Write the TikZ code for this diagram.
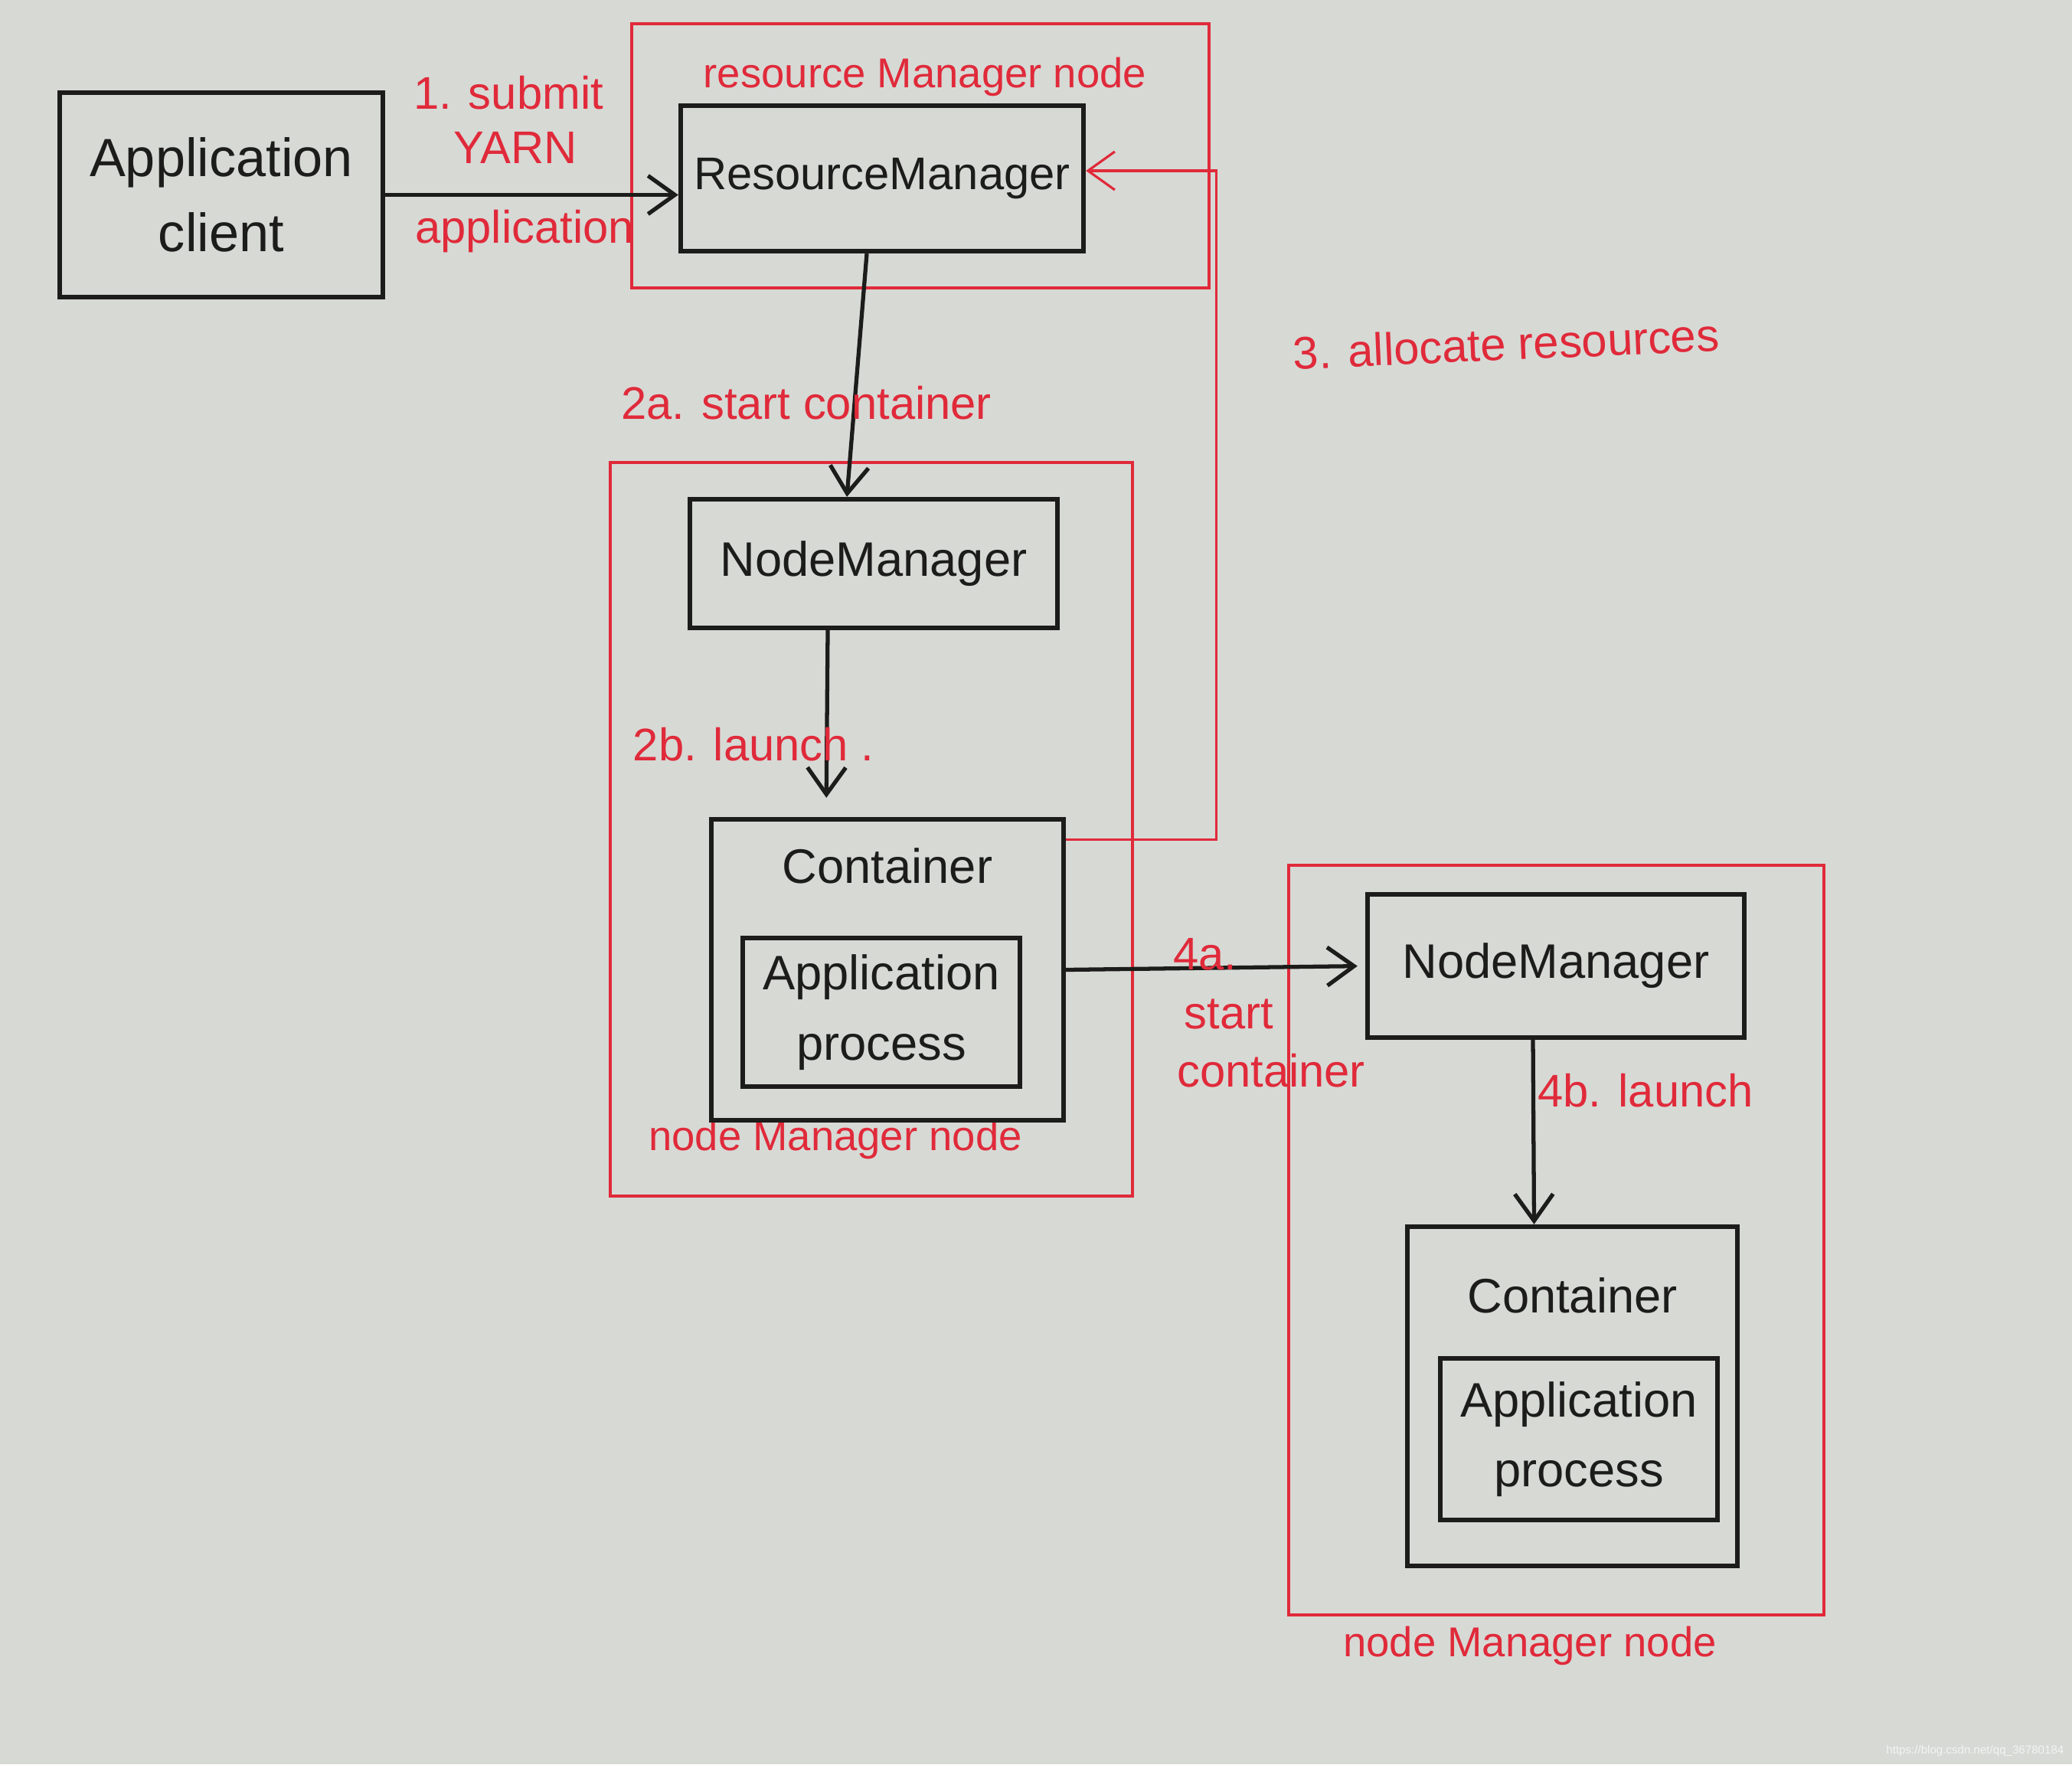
\documentclass[tikz,border=0pt]{standalone}
\usepackage{fontspec}
\setmainfont{Liberation Sans}
\usepackage{tikz}
\usetikzlibrary{positioning,arrows.meta}
\definecolor{pPaper}{HTML}{D7D9D5}
\definecolor{pInk}{HTML}{1C1C1A}
\definecolor{pRed}{HTML}{E02A3A}
\definecolor{pMark}{HTML}{F4F4F2}
\tikzset{
 inkbox/.style={draw=pInk, line width=1.8pt, text=pInk, font=\fontsize{18}{26}\selectfont, align=center, inner sep=2pt},
 inktxt/.style={text=pInk, font=\fontsize{18}{22}\selectfont, inner sep=2pt},
 hostbox/.style={draw=pRed, line width=0.9pt},
 redtxt/.style={text=pRed, font=\fontsize{17}{20}\selectfont, inner sep=0pt},
 hosttxt/.style={text=pRed, font=\fontsize{15.5}{18}\selectfont, inner sep=0pt},
 inkarr/.style={-{Straight Barb[length=3.5mm,width=5mm]}, pInk, line width=1.5pt},
 redarr/.style={-{Straight Barb[length=3.5mm,width=5mm]}, pRed, line width=0.9pt}
}

\begin{document}
\begin{tikzpicture}
\fill[pPaper] (0,0) rectangle (27.06,-23.04);
\useasboundingbox (0,0) rectangle (27.06,-23.04);
\node[hostbox, minimum width=7.54cm, minimum height=3.45cm] (rmHost) at (12.02,-2.035) {};
\node[hostbox, minimum width=6.82cm, minimum height=9.58cm] (nmHostA) at (11.38,-10.83) {};
\node[hostbox, minimum width=6.99cm, minimum height=9.79cm] (nmHostB) at (20.325,-16.195) {};
\node[hosttxt] (rmHostLbl) at (12.08,-1.0) {resource Manager node};
\node[hosttxt] (nmHostALbl) at (10.91,-14.88) {node Manager node};
\node[hosttxt] (nmHostBLbl) at (19.98,-21.49) {node Manager node};
\node[inkbox, font=\fontsize{20}{28}\selectfont, minimum width=4.22cm, minimum height=2.67cm] (client) at (2.89,-2.545) {Application\\client};
\node[inkbox, font=\fontsize{17}{20}\selectfont, minimum width=5.26cm, minimum height=1.9cm] (rm) at (11.52,-2.33) {ResourceManager};
\node[inkbox, minimum width=4.8cm, minimum height=1.68cm] (nmA) at (11.41,-7.36) {NodeManager};
\node[inkbox, minimum width=4.6cm, minimum height=3.93cm] (contA) at (11.59,-12.665) {};
\node[inktxt, below=0.33cm of contA.north] (contALbl) {Container};
\node[inkbox, minimum width=3.62cm, minimum height=1.94cm] (procA) at (11.51,-13.22) {Application\\process};
\node[inkbox, minimum width=4.92cm, minimum height=1.87cm] (nmB) at (20.32,-12.615) {NodeManager};
\node[inkbox, minimum width=4.31cm, minimum height=4.43cm] (contB) at (20.535,-18.235) {};
\node[inktxt, below=0.62cm of contB.north] (contBLbl) {Container};
\node[inkbox, minimum width=3.62cm, minimum height=2.11cm] (procB) at (20.62,-18.795) {Application\\process};
\draw[inkarr] (client.east) -- (client.east -| rm.west);
\node[redtxt] (submitLbl) at (6.64,-1.21) {1. submit};
\node[redtxt] (yarnLbl) at (6.73,-1.93) {YARN};
\node[redtxt] (appLbl) at (6.85,-3.02) {application};
\draw[inkarr] ([xshift=-2mm]rm.south) -- ([xshift=-3.5mm]nmA.north);
\node[redtxt] (startALbl) at (10.53,-5.26) {2a. start container};
\draw[inkarr, shorten >=2.5mm] ([xshift=-6mm]nmA.south) -- ([xshift=-8mm]contA.north);
\node[redtxt] (launchALbl) at (9.84,-9.72) {2b. launch .};
\draw[redarr] ([yshift=-3mm]contA.north east) -| ([xshift=17mm,yshift=1mm]rm.east) -- ([yshift=1mm]rm.east);
\node[redtxt, rotate=2.5] (allocLbl) at (19.67,-4.49) {3. allocate resources};
\draw[inkarr, shorten >=1mm] (contA.east) -- (nmB.west);
\node[redtxt] (startBLbl) at (15.74,-12.46) {4a.};
\node[redtxt] (startBLblB) at (16.05,-13.24) {start};
\node[redtxt] (startBLblC) at (16.6,-13.98) {container};
\draw[inkarr] ([xshift=-3mm]nmB.south) -- ([xshift=-5mm]contB.north);
\node[redtxt] (launchBLbl) at (21.49,-14.24) {4b. launch};
\node[anchor=base east, text=pMark, font=\fontsize{4.3}{5}\selectfont, inner sep=0pt] (srcMark) at (26.96,-22.90) {https://blog.csdn.net/qq\_36780184};
\end{tikzpicture}
\end{document}
